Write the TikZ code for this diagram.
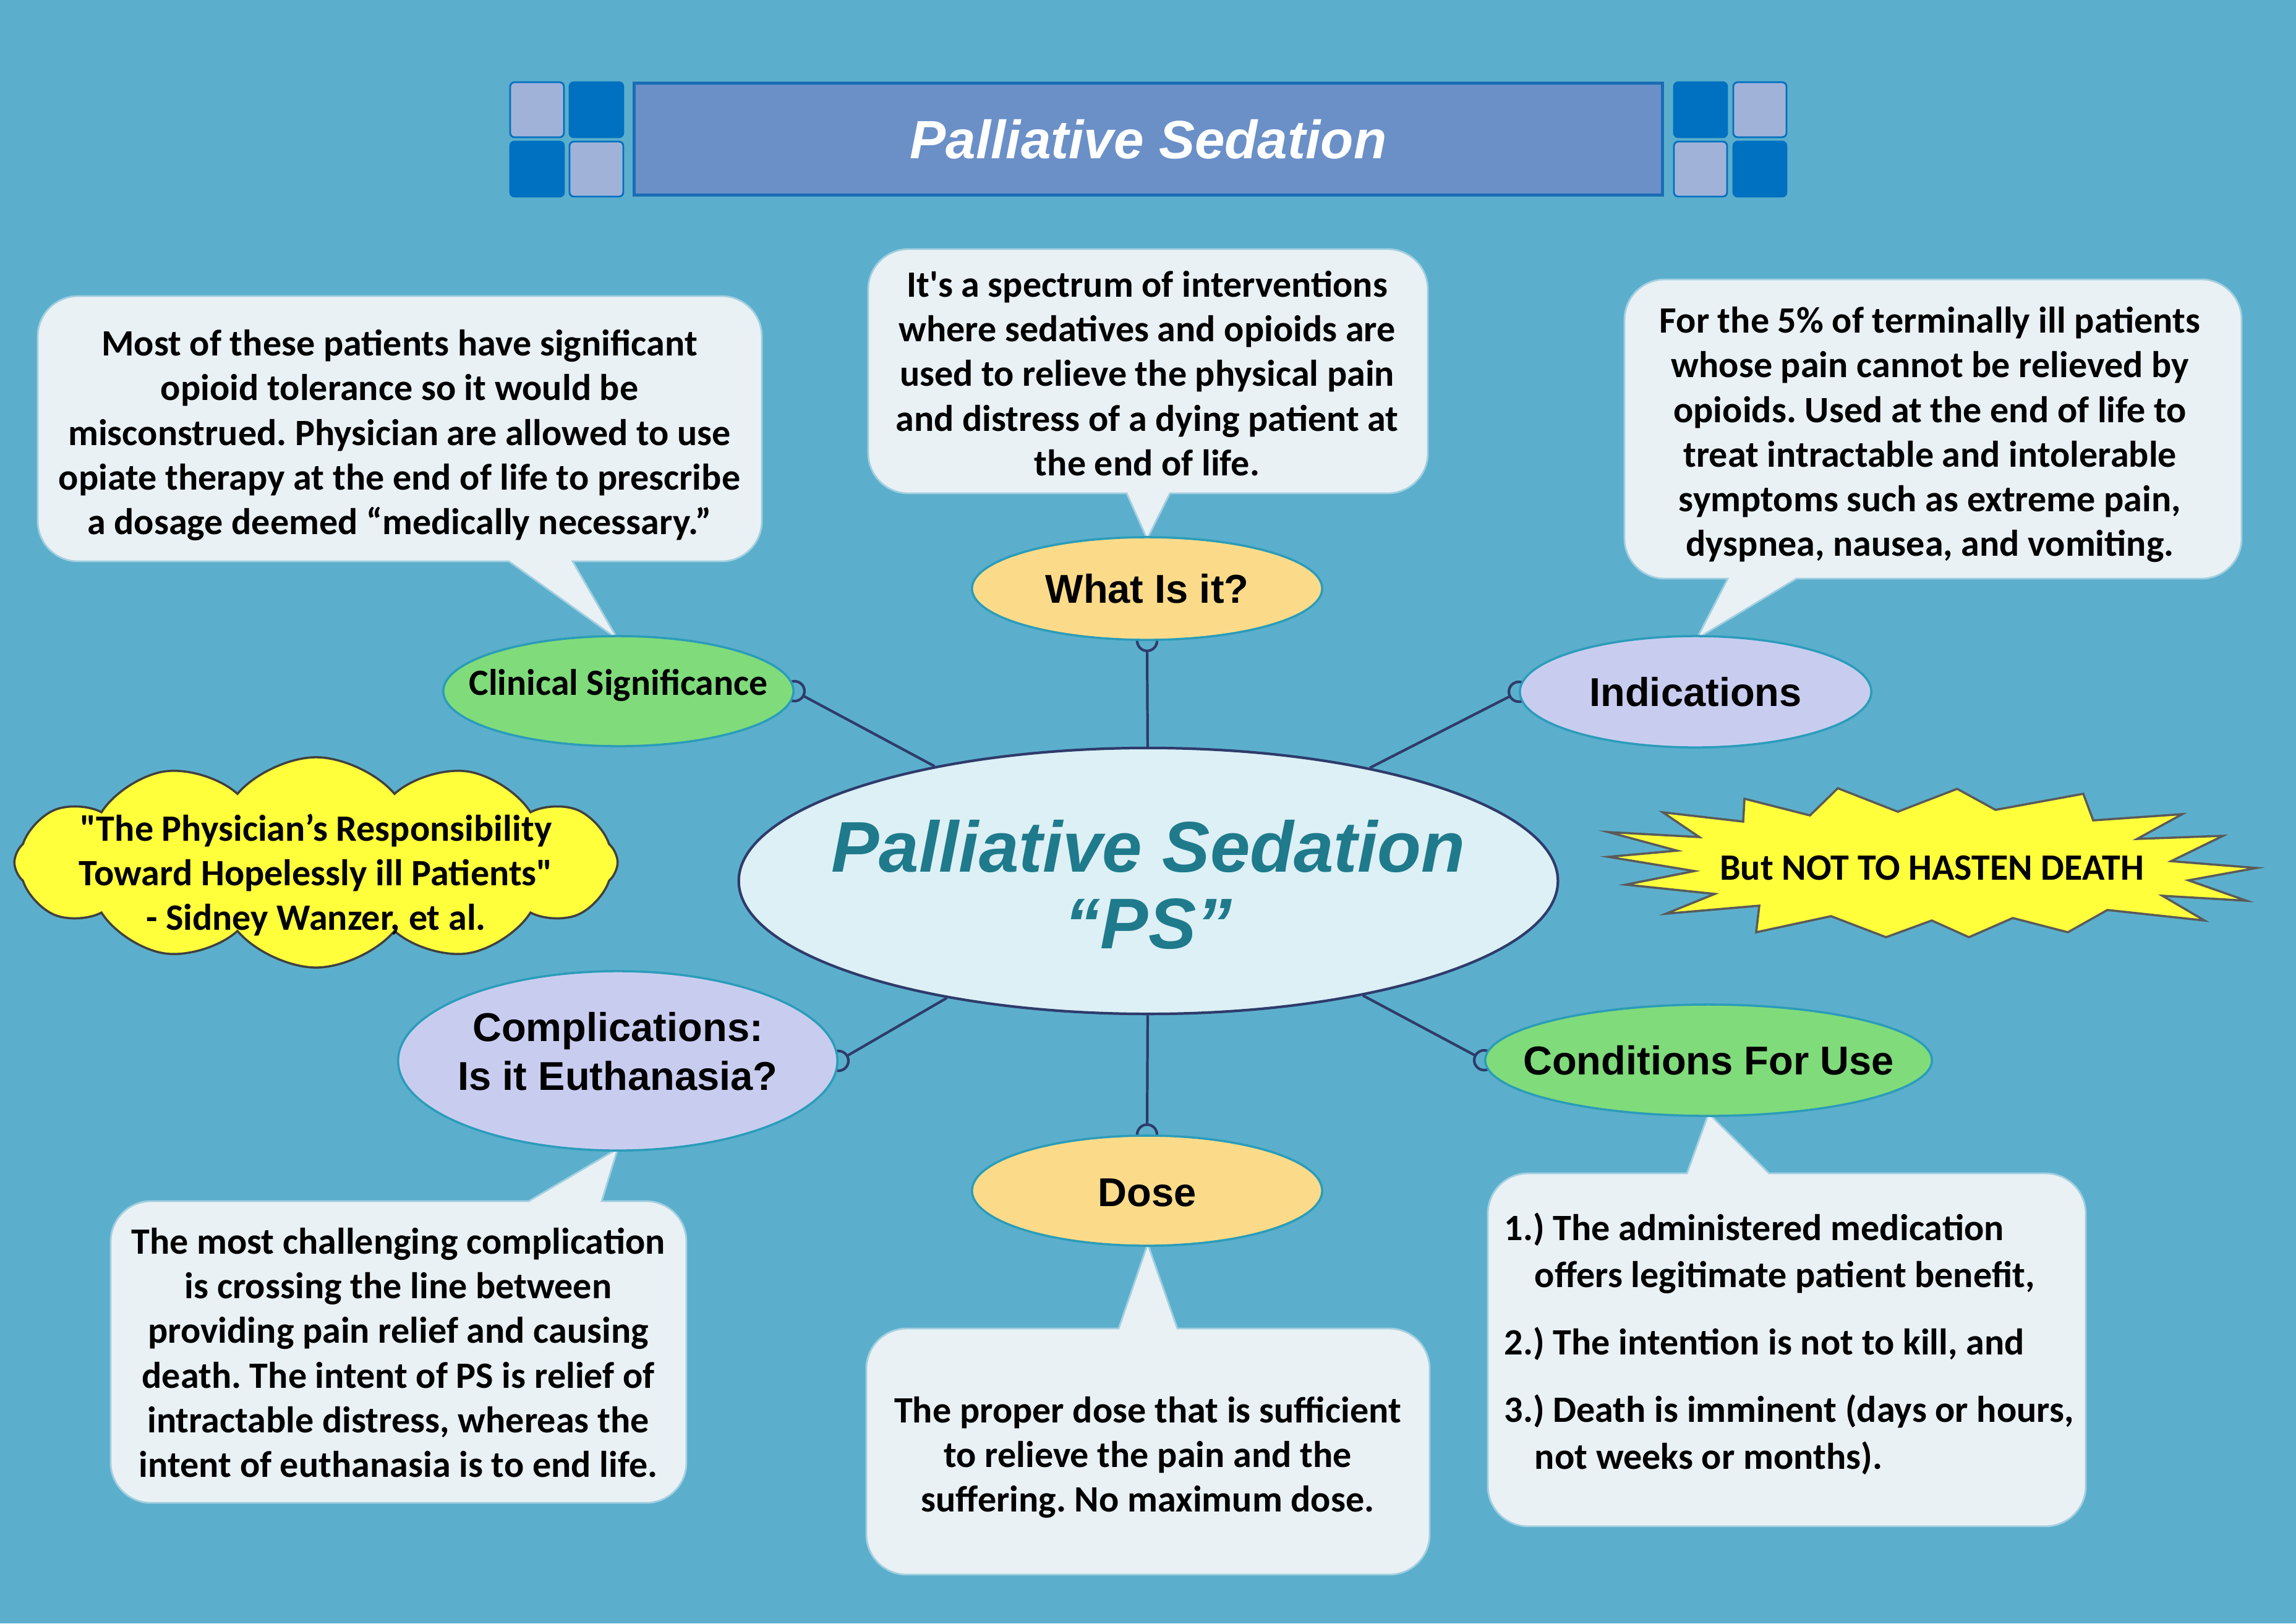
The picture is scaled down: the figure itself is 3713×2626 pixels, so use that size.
\documentclass[tikz,border=0pt]{standalone}
\usepackage{fontspec}
\setmainfont{Carlito}
\newfontfamily\arialf{Liberation Sans}
\usetikzlibrary{shapes.geometric,shapes.symbols,calc}
\definecolor{bgblue}{HTML}{5BAFCC}
\definecolor{callfill}{HTML}{E9F1F5}
\definecolor{callb}{HTML}{A3CFE0}
\definecolor{yel}{HTML}{FBDB89}
\definecolor{grn}{HTML}{80DB7B}
\definecolor{lav}{HTML}{C8CDF0}
\definecolor{ellb}{HTML}{2B9CB9}
\definecolor{ctrfill}{HTML}{DCF0F5}
\definecolor{ctrb}{HTML}{2E3B6B}
\definecolor{ctrtext}{HTML}{1F7A8C}
\definecolor{linkc}{HTML}{2E3B6B}
\definecolor{titlefill}{HTML}{6B90C8}
\definecolor{titleb}{HTML}{1A6DB5}
\definecolor{sqdark}{HTML}{0070C0}
\definecolor{sqlight}{HTML}{A1B2D9}
\definecolor{yelb}{HTML}{FFFF3C}
\definecolor{cloudb}{HTML}{404040}
\definecolor{starb}{HTML}{5A5A5A}
\pgfdeclarelayer{back}
\pgfdeclarelayer{links}
\pgfsetlayers{back,links,main}
\frenchspacing
\newcommand\straight[1]{{\addfontfeatures{Ligatures=TeXOff}#1}}
\newcommand\bubbleB[8]{\path[callout] (#1+65,-#2) -- (#3-65,-#2) arc[start angle=90,end angle=0,radius=65] -- (#3,-#4+65) arc[start angle=0,end angle=-90,radius=65] -- (#6,-#4) -- (#7,-#8) -- (#5,-#4) -- (#1+65,-#4) arc[start angle=270,end angle=180,radius=65] -- (#1,-#2-65) arc[start angle=180,end angle=90,radius=65] -- cycle;}
\newcommand\bubbleT[8]{\path[callout] (#1+65,-#2) -- (#5,-#2) -- (#7,-#8) -- (#6,-#2) -- (#3-65,-#2) arc[start angle=90,end angle=0,radius=65] -- (#3,-#4+65) arc[start angle=0,end angle=-90,radius=65] -- (#1+65,-#4) arc[start angle=270,end angle=180,radius=65] -- (#1,-#2-65) arc[start angle=180,end angle=90,radius=65] -- cycle;}
\begin{document}
\frenchspacing
\begin{tikzpicture}[x=0.01cm,y=0.01cm,
  conn/.style={draw=linkc, line width=1.2pt},
  topic/.style={ellipse, draw=ellb, line width=1pt, inner sep=0pt},
  tlab/.style={font=\arialf\bfseries\fontsize{18.5}{22.5}\selectfont, align=center, text=black},
  callout/.style={fill=callfill, draw=callb, line width=0.8pt},
  ctext/.style={font=\bfseries\fontsize{17.1}{20.5}\selectfont, align=center, inner sep=0pt, text=black},
  sq/.style={rounded corners=2pt, line width=0.8pt, draw=sqdark}]
\begin{pgfonlayer}{back}
\fill[bgblue] (0,0) rectangle (3713,-2626);
\end{pgfonlayer}
\useasboundingbox (0,0) rectangle (3713,-2626);
% title banner
\draw[sq, fill=sqlight] (825,-133) rectangle (912,-222);
\draw[sq, fill=sqdark] (921,-133) rectangle (1008,-222);
\draw[sq, fill=sqdark] (825,-229) rectangle (912,-318);
\draw[sq, fill=sqlight] (921,-229) rectangle (1008,-318);
\draw[sq, fill=sqdark] (2707,-133) rectangle (2793,-222);
\draw[sq, fill=sqlight] (2803,-133) rectangle (2889,-222);
\draw[sq, fill=sqlight] (2707,-229) rectangle (2793,-318);
\draw[sq, fill=sqdark] (2803,-229) rectangle (2889,-318);
\node[draw=titleb, line width=1.4pt, fill=titlefill, minimum width=16.62cm, minimum height=1.80cm, inner sep=0pt, text=white, font=\arialf\bfseries\itshape\fontsize{24.8}{28}\selectfont] (title) at (1857,-225) {Palliative Sedation};
% callouts
\bubbleB{61}{479}{1232}{908}{823}{926}{999}{1034}
\bubbleB{1404}{403}{2309}{798}{1822}{1892}{1855}{872}
\bubbleB{2627}{452}{3625}{936}{2794}{2905}{2744}{1033}
\bubbleT{179}{1943}{1110}{2431}{855}{973}{999}{1858}
\bubbleT{1401}{2149}{2312}{2547}{1809}{1904}{1856}{2012}
\bubbleT{2406}{1898}{3373}{2469}{2728}{2861}{2763}{1801}
\node[ctext] (t1) at (646,-704) {Most of these patients have significant\\opioid tolerance so it would be\\misconstrued. Physician are allowed to use\\opiate therapy at the end of life to prescribe\\a dosage deemed “medically necessary.”};
\node[ctext] (t2) at (1855,-604) {\straight{It's} a spectrum of interventions\\where sedatives and opioids are\\used to relieve the physical pain\\and distress of a dying patient at\\the end of life.};
\node[ctext] (t3) at (3121,-703) {For the 5\% of terminally ill patients\\whose pain cannot be relieved by\\opioids. Used at the end of life to\\treat intractable and intolerable\\symptoms such as extreme pain,\\dyspnea, nausea, and vomiting.};
\node[ctext] (t4) at (644,-2188) {The most challenging complication\\is crossing the line between\\providing pain relief and causing\\death. The intent of PS is relief of\\intractable distress, whereas the\\intent of euthanasia is to end life.};
\node[ctext] (t5) at (1856,-2357) {The proper dose that is sufficient\\to relieve the pain and the\\suffering. No maximum dose.};
\node[ctext, align=left, anchor=west, font=\bfseries\fontsize{17.1}{21.6}\selectfont] (t6) at (2432,-2174) {1.) The administered medication\\\hspace*{14pt}offers legitimate patient benefit,\\[9.4pt]2.) The intention is not to kill, and\\[9.4pt]3.) Death is imminent (days or hours,\\\hspace*{14pt}not weeks or months).};
% topic ellipses
\node[topic, fill=yel, minimum width=5.66cm, minimum height=1.66cm, label={[tlab]center:What Is it?}] (what) at (1855,-952) {};
\node[topic, fill=grn, minimum width=5.66cm, minimum height=1.78cm, label={[tlab, font=\bfseries\fontsize{17}{20}\selectfont, yshift=0.09cm]center:Clinical Significance}] (clin) at (1000,-1118) {};
\node[topic, fill=lav, minimum width=5.68cm, minimum height=1.80cm, label={[tlab]center:Indications}] (ind) at (2742,-1119) {};
\node[topic, fill=lav, minimum width=7.10cm, minimum height=2.90cm, label={[tlab, yshift=0.15cm]center:{Complications:\\Is it Euthanasia?}}] (comp) at (999,-1716) {};
\node[topic, fill=yel, minimum width=5.66cm, minimum height=1.78cm, label={[tlab, yshift=-0.03cm]center:Dose}] (dose) at (1855,-1926) {};
\node[topic, fill=grn, minimum width=7.22cm, minimum height=1.80cm, label={[tlab]center:Conditions For Use}] (cond) at (2763,-1715) {};
\node[ellipse, draw=ctrb, line width=1.2pt, fill=ctrfill, minimum width=13.24cm, minimum height=4.30cm, inner sep=0pt, label={[font=\arialf\bfseries\itshape\fontsize{33}{35}\selectfont, text=ctrtext, align=center, yshift=-0.06cm]center:{Palliative Sedation\\“PS”}}] (ctr) at (1857,-1425) {};
% connectors
\begin{pgfonlayer}{links}
\foreach \n/\a in {what/south, clin/east, ind/west, comp/east, dose/north, cond/west} {
  \draw[conn] (ctr) -- ($(\n.\a)!0.16cm!(ctr)$);
  \draw[conn] (\n.\a) circle[radius=16];
}
\end{pgfonlayer}
% cloud
\node[cloud, cloud puffs=12, cloud puff arc=100, aspect=2.9, draw=cloudb, line width=1pt, fill=yelb, minimum width=9.75cm, minimum height=3.40cm, inner sep=0pt, label={[ctext, yshift=-0.2cm]center:{\straight{"}The Physician’s Responsibility\\Toward Hopelessly ill Patients\straight{"}\\- Sidney Wanzer, et al.}}] (quote) at (511,-1395) {};
% starburst
\draw[starb, fill=yelb, line width=1pt, line join=miter] (2601,-1346) -- (2748,-1354) -- (2689,-1314) -- (2819,-1329) -- (2821,-1292) -- (2927,-1319) -- (2972,-1275) -- (3069,-1313) -- (3165,-1276) -- (3227,-1310) -- (3369,-1284) -- (3385,-1327) -- (3529,-1317) -- (3456,-1357) -- (3595,-1352) -- (3511,-1393) -- (3649,-1404) -- (3539,-1424) -- (3633,-1457) -- (3497,-1449) -- (3565,-1489) -- (3408,-1472) -- (3344,-1508) -- (3255,-1485) -- (3184,-1516) -- (3124,-1489) -- (3050,-1516) -- (2961,-1482) -- (2840,-1508) -- (2845,-1465) -- (2694,-1478) -- (2773,-1446) -- (2629,-1431) -- (2740,-1409) -- (2601,-1386) -- (2712,-1376) -- cycle;
\node[ctext] (star) at (3124,-1404) {But NOT TO HASTEN DEATH};
\end{tikzpicture}
\end{document}
